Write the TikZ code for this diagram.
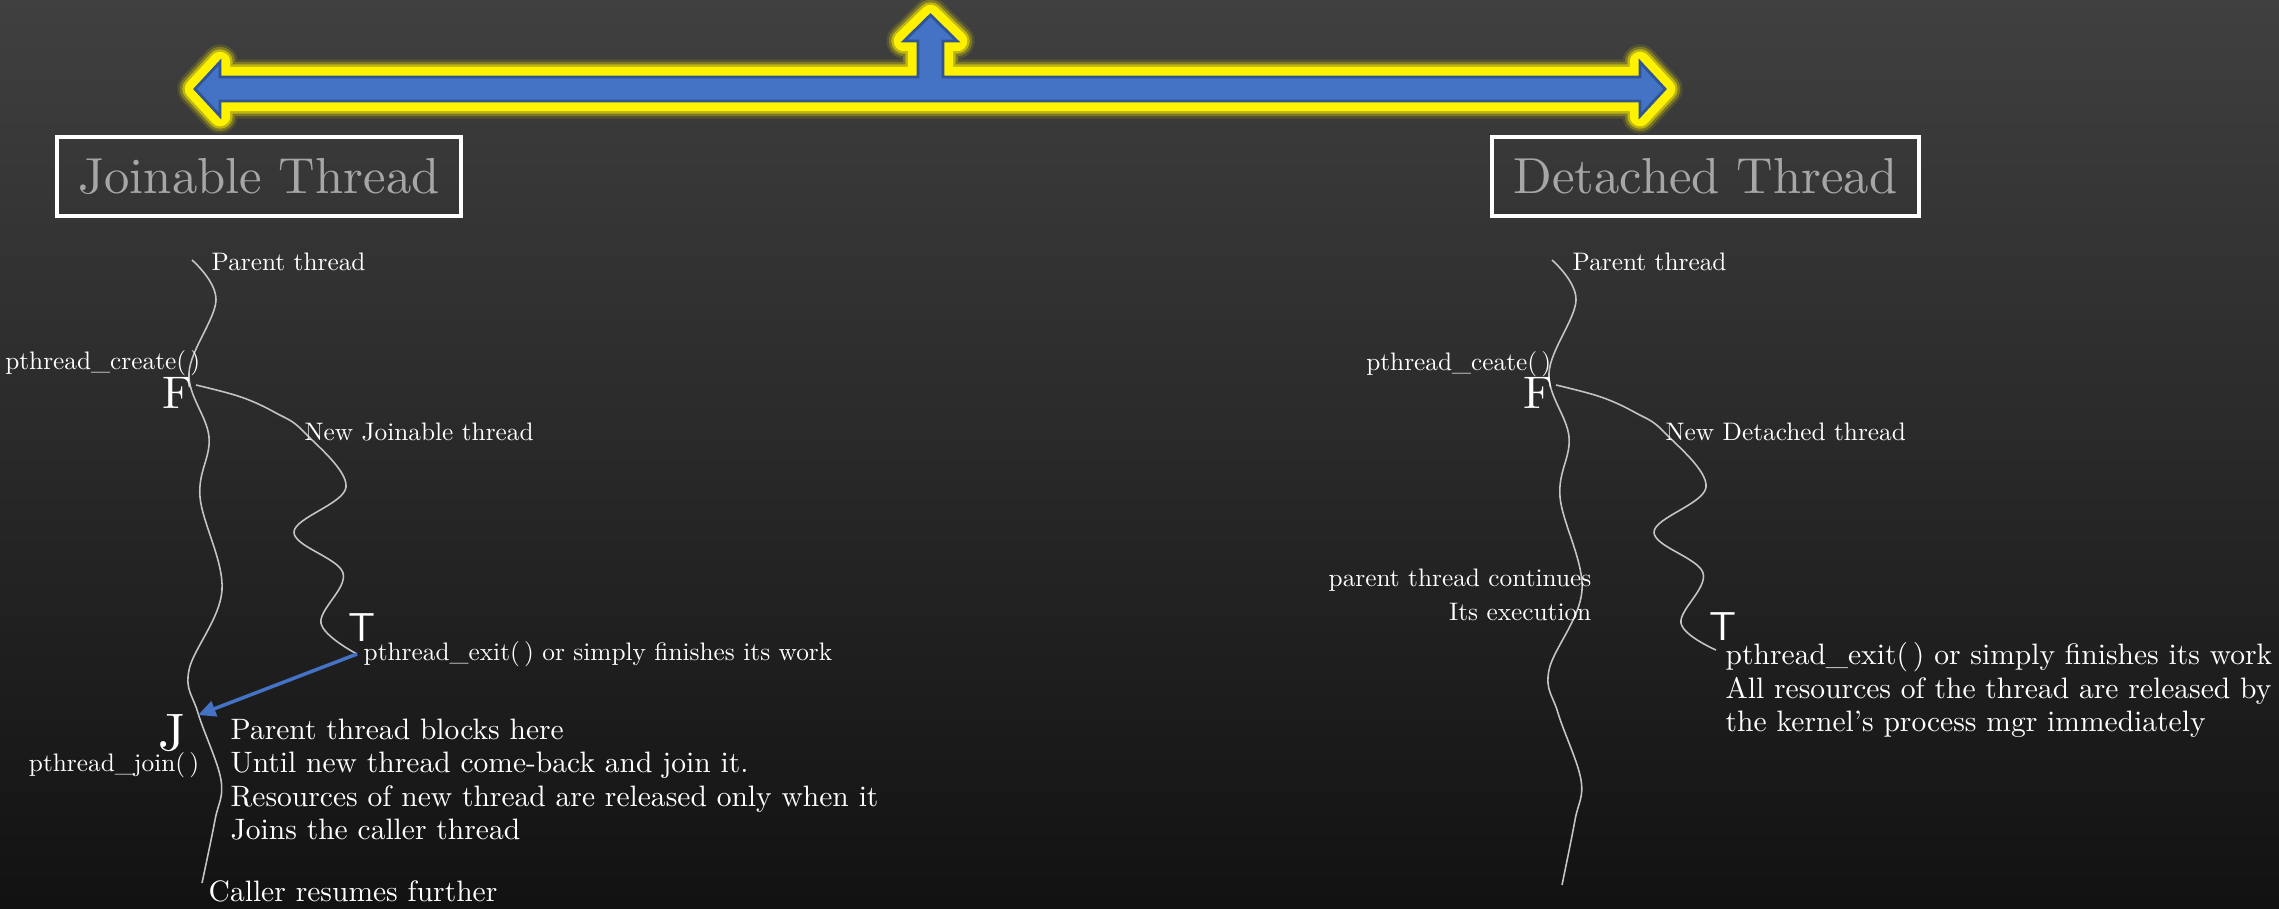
\documentclass[tikz,border=0pt]{standalone}
\usepackage{tikz}
\usetikzlibrary{arrows.meta}

% one design size of Latin Modern at every size
\DeclareFontFamily{TU}{lmten}{}
\DeclareFontShape{TU}{lmten}{m}{n}{<-> \UnicodeFontFile{lmroman10-regular}{\UnicodeFontTeXLigatures}}{}
\renewcommand\rmdefault{lmten}

\definecolor{arrowblue}{HTML}{4472C4}
\definecolor{arrowedge}{HTML}{2F5597}
\definecolor{titlegray}{HTML}{A6A6A6}
\definecolor{threadgray}{HTML}{C4C4C4}

\begin{document}
\begin{tikzpicture}[x=0.01cm,y=-0.01cm,
	label/.style={text=white,inner sep=0pt,font=\fontsize{7.2}{9.7}\selectfont},
	note/.style={text=white,inner sep=0pt,align=left,font=\fontsize{8.4}{9.53}\selectfont},
	titlebox/.style={draw=white,line width=1.1pt,text=titlegray,minimum height=0.79cm,font=\fontsize{14.4}{16}\selectfont},
	forkletter/.style={text=white,inner sep=0pt,font=\fontsize{13}{15}\selectfont},
	exitletter/.style={text=white,inner sep=0pt,font=\sffamily\fontsize{11.5}{13}\selectfont},
	thread/.style={draw=threadgray,line width=0.45pt},
	joinarrow/.style={draw=arrowblue,line width=1pt,-{Triangle[length=5pt,width=4.5pt]}}]

	% background
	\shade[top color=black!75,bottom color=black!93] (0,0) rectangle (2279,908);
	\useasboundingbox (0,0) rectangle (2279,908);

	% the glowing three way arrow
	\path[preaction={draw=yellow,opacity=0.12,line width=10pt,line join=round},
	      preaction={draw=yellow,opacity=0.25,line width=8.6pt,line join=round},
	      preaction={draw=yellow,opacity=0.5,line width=7.2pt,line join=round},
	      preaction={draw=yellow,line width=5.8pt,line join=round},
	      fill=arrowblue,draw=arrowedge,line width=0.8pt]
		(195,89) -- (220,62) -- (220,77) -- (918,77) -- (918,41) -- (904,41) -- (930.5,15)
		-- (957,41) -- (943,41) -- (943,77) -- (1640,77) -- (1640,62) -- (1665,89)
		-- (1640,116) -- (1640,101) -- (220,101) -- (220,116) -- cycle;

	\node[titlebox,minimum width=4.04cm] (joinable) at (259,176.5) {Joinable Thread};
	\node[titlebox,minimum width=4.27cm] (detached) at (1705.5,176.5) {Detached Thread};

	% joinable side
	\coordinate (lp-top) at (192,260);
	\coordinate (lp-end) at (202,883);
	\coordinate (lf-fork) at (196,385);
	\coordinate (lf-end) at (357,654);
	\coordinate (l-join) at (198,715);

	\draw[thread] plot[smooth,tension=0.6] coordinates {(lp-top) (216,300) (189,373) (209,437) (200,497) (222,590) (189,670) (198,713) (221,780) (215,820) (lp-end)};
	\draw[thread] plot[smooth,tension=0.6] coordinates {(lf-fork) (241,397) (276,413) (304,432) (346,487) (294,532) (343,573) (321,623) (lf-end)};
	\draw[joinarrow] (lf-end) -- (l-join);

	\node[label,anchor=base west] (lparent) at (211,270) {Parent thread};
	\node[label,anchor=base east] (lcreate) at (201,369) {pthread\_create(\,)};
	\node[forkletter,anchor=base west] (lF) at (162,408) {F};
	\node[label,anchor=base west] (lnew) at (304,440) {New Joinable thread};
	\node[exitletter,anchor=base west] (lT) at (348,641) {T};
	\node[label,anchor=base west] (lexit) at (363,660) {pthread\_exit(\,) or simply finishes its work};
	\node[forkletter,font=\fontsize{15}{17}\selectfont,anchor=base west] (lJ) at (158,750) {J};
	\node[label,anchor=base east] (ljoin) at (200,771) {pthread\_join(\,)};
	\node[note,anchor=north west] (lblock) at (230,718) {Parent thread blocks here\\Until new thread come-back and join it.\\Resources of new thread are released only when it\\Joins the caller thread};
	\node[note,anchor=base west] (lresume) at (208,901) {Caller resumes further};

	% detached side
	\coordinate (rp-top) at (1552,260);
	\coordinate (rp-end) at (1562,885);
	\coordinate (rf-fork) at (1556,385);
	\coordinate (rf-end) at (1716,650);

	\draw[thread] plot[smooth,tension=0.6] coordinates {(rp-top) (1576,300) (1549,373) (1569,437) (1560,497) (1582,590) (1549,670) (1558,713) (1581,780) (1575,820) (rp-end)};
	\draw[thread] plot[smooth,tension=0.6] coordinates {(rf-fork) (1601,397) (1636,413) (1664,432) (1706,487) (1654,532) (1703,573) (1681,623) (rf-end)};

	\node[label,anchor=base west] (rparent) at (1572,270) {Parent thread};
	\node[label,anchor=base east] (rcreate) at (1552,370) {pthread\_ceate(\,)};
	\node[forkletter,anchor=base west] (rF) at (1523,408) {F};
	\node[label,anchor=base west] (rnew) at (1665,440) {New Detached thread};
	\node[label,align=right,anchor=north east] (rcont) at (1592,568) {parent thread continues\\Its execution};
	\node[exitletter,anchor=base west] (rT) at (1709,640) {T};
	\node[note,anchor=north west] (rexit) at (1725,642) {pthread\_exit(\,) or simply finishes its work\\All resources of the thread are released by\\the kernel's process mgr immediately};
\end{tikzpicture}
\end{document}
